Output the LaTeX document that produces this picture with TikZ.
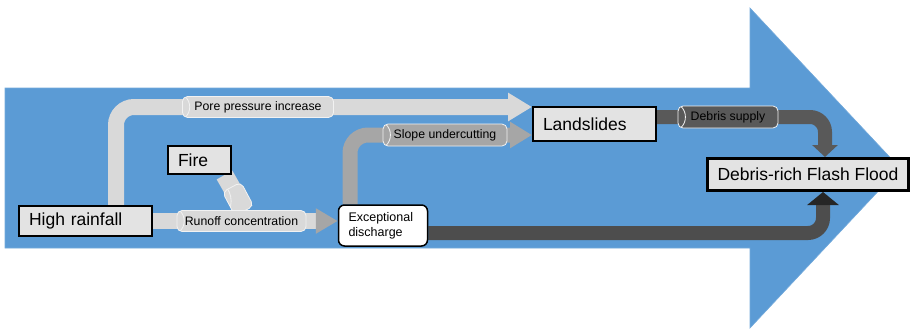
\documentclass[tikz,border=0pt]{standalone}
\usepackage{fontspec}
\setmainfont{Liberation Sans}
\usetikzlibrary{arrows.meta,backgrounds}

\definecolor{arrowblue}{HTML}{5B9BD5}
\definecolor{bandlight}{HTML}{D9D9D9}
\definecolor{bandmid}{HTML}{A6A6A6}
\definecolor{banddark}{HTML}{595959}
\definecolor{bandflow}{HTML}{4D4D4D}
\definecolor{boxgray}{HTML}{E3E3E3}

\begin{document}
\begin{tikzpicture}[
    x=1pt, y=-1pt,
    box/.style={draw=black, line width=2pt, fill=boxgray, inner xsep=10pt, inner ysep=0pt,
        align=left, font=\fontsize{17.5}{20}\selectfont},
    tube/.style={draw=white!90!gray, line width=0.8pt, fill=#1, rounded corners=5pt,
        inner sep=0pt, font=\fontsize{12.3}{14}\selectfont,
        path picture={\draw[white!90!gray, line width=0.8pt]
            ([xshift=2.5pt]path picture bounding box.north west)
            to[bend left=50] ([xshift=2.5pt]path picture bounding box.south west);}},
    band/.style={line width=#1, rounded corners=18pt},
    ]
    \useasboundingbox (0,0) rectangle (911,330);

    % boxes
    \node[box, text width=113pt, minimum height=30pt] (rain) at (85.5,221) {High rainfall};
    \node[box, text width=43pt, minimum height=28pt] (fire) at (199.5,160) {Fire};
    \node[box, text width=103pt, minimum height=34pt] (slide) at (594.5,124) {Landslides};
    \node[box, line width=3pt, inner xsep=0pt, minimum width=201pt, minimum height=32pt] (flood) at (808,174.5) {Debris-rich Flash Flood};
    \node[box, fill=white, rounded corners=6pt, line width=1.5pt, text width=69pt, minimum height=41pt,
        font=\fontsize{12.5}{15}\selectfont] (flow) at (383,225.5) {Exceptional\\discharge};

    % labels on the bands
    \node[tube=bandlight, rotate=-62, minimum width=27pt, minimum height=21pt] (firecap) at (238,199) {};
    \node[tube=bandlight, minimum width=151pt, minimum height=21pt] (poretube) at (258,107) {Pore pressure increase};
    \node[tube=bandlight, minimum width=129pt, minimum height=21pt] (runtube) at (241.5,221) {Runoff concentration};
    \node[tube=bandmid, minimum width=124pt, minimum height=22pt] (slopetube) at (445,135) {Slope undercutting};
    \node[tube=banddark, minimum width=100pt, minimum height=22pt] (debristube) at (728,117) {Debris supply};
    \coordinate (firejoin) at ([xshift=3pt]runtube.north);

    \begin{scope}[on background layer]
    \fill[arrowblue, draw=arrowblue!85!white, line width=0.6pt] (5,88) -- (750,88) -- (750,8) -- (900,168)
        -- (750,328) -- (750,248) -- (5,248) -- cycle;

    \draw[band=16pt, bandlight, -{Triangle[width=27pt,length=24pt]}] ([xshift=30.5pt]rain.north) |- ([yshift=17pt]slide.west);
    \draw[band=16pt, bandlight, -{Triangle[width=24pt,length=22pt,color=bandmid]}] (rain.east) -- (rain.east -| flow.west);
    \draw[band=18pt, bandlight] ([xshift=25pt]fire.south) -- (firejoin);
    \draw[band=15pt, bandmid, -{Triangle[width=25pt,length=22pt]}] ([xshift=-33pt]flow.north) |- ([yshift=-11pt]slide.west);
    \draw[band=14pt, banddark, rounded corners=15pt, -{Triangle[width=25pt,length=12pt]}] ([yshift=7pt]slide.east) -| ([xshift=17pt]flood.north);
    \draw[band=14pt, bandflow, rounded corners=15pt, -{Triangle[width=31pt,length=13pt,color=black!85]}] ([yshift=-7.5pt]flow.east) -| ([xshift=15pt]flood.south);
    \end{scope}
\end{tikzpicture}
\end{document}
